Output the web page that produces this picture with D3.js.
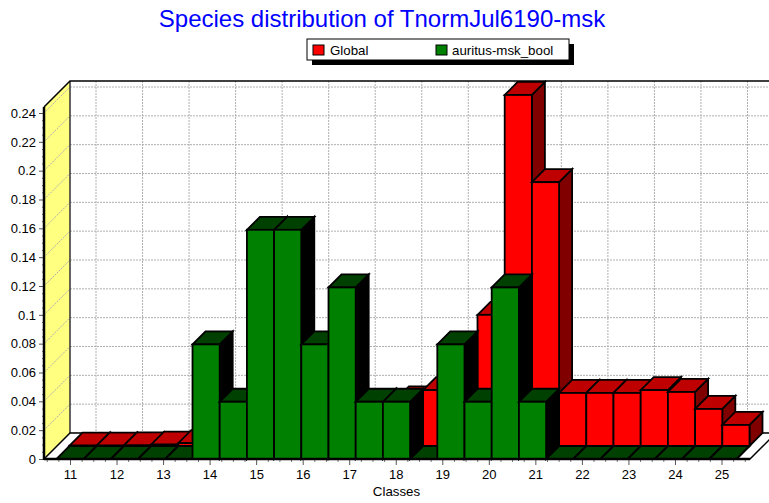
<!DOCTYPE html>
<html><head><meta charset="utf-8">
<script src="https://cdn.jsdelivr.net/npm/d3@7/dist/d3.min.js"></script>
<style>html,body{margin:0;padding:0;background:#fff;overflow:hidden}svg{display:block}text{font-family:"Liberation Sans",Arial,sans-serif}</style>
</head><body><svg id="c" width="769" height="503"></svg>
<script>
const titleText = "Species distribution of TnormJul6190-msk";
const xTitle = "Classes";
const seriesNames = ["Global", "auritus-msk_bool"];
const seriesColors = ["#ff0000", "#008000"];
const topColors = ["#bf0000", "#004000"];
const sideColors = ["#800000", "#000000"];
const bins = ["b01","b02","b03","b04","b05","b06","b07","b08","b09","b10","b11","b12","b13","b14","b15","b16","b17","b18","b19","b20","b21","b22","b23","b24","b25"];
const globalValues = [0.0003,0.0003,0.0004,0.001,0.002,0.005,0.01,0.015,0.02,0.025,0.028,0.028,0.0323,0.0388,0.04,0.091,0.2435,0.183,0.0368,0.0368,0.0368,0.0388,0.0375,0.0257,0.0146];
const maskValues = [0,0,0,0,0,0.0795,0.0397,0.159,0.159,0.0795,0.119,0.0397,0.0397,0,0.0795,0.0397,0.119,0.0397,0,0,0,0,0,0,0];
const xTicks = [11,12,13,14,15,16,17,18,19,20,21,22,23,24,25];
const yTicks = [0,0.02,0.04,0.06,0.08,0.1,0.12,0.14,0.16,0.18,0.2,0.22,0.24];

const svg = d3.select("#c");
const D = 26, S = 13; // total depth, per-series depth
const x = d3.scaleLinear().domain([11,25]).range([70,721.5]);
const y = d3.scaleLinear().domain([0,0.24]).range([459,113]);
const band = d3.scaleBand().domain(bins).range([56.5,736.5]);
const xL = 44, xR = 750, yB = 459, yT = 107;

// wall
svg.append("polygon").attr("points",[[xL,yT],[xL+D,yT-D],[xL+D,yB-D+1],[xL,yB]].join(" "))
  .attr("fill","#ffff80").attr("stroke","none");
// grid
const gridStyle = s => s.attr("stroke","#b0b0b0").attr("stroke-width",1).attr("stroke-dasharray","2,1").attr("fill","none");
const g = svg.append("g");
yTicks.forEach(v=>{
  gridStyle(g.append("line")).attr("x1",xL+D).attr("x2",769).attr("y1",y(v)-D).attr("y2",y(v)-D);
  gridStyle(g.append("line")).attr("x1",xL).attr("x2",xL+D).attr("y1",y(v)).attr("y2",y(v)-D);
});
xTicks.forEach(v=>{
  gridStyle(g.append("line")).attr("x1",x(v)+D).attr("x2",x(v)+D).attr("y1",yT-D).attr("y2",yB-D);
});
// wall outlines
svg.append("line").attr("x1",xL+D).attr("x2",xL+D).attr("y1",yT-D).attr("y2",yB-D).attr("stroke","#333").attr("stroke-width",1.5);
svg.append("path").attr("d",`M${xL},${yT}L${xL+D},${yT-D}H769`).attr("fill","none").attr("stroke","#000").attr("stroke-width",1.5);
// floor
svg.append("polygon").attr("points",[[xL,yB],[xR,yB],[xR+D,yB-D],[xL+D,yB-D]].join(" "))
  .attr("fill","#fff").attr("stroke","#000").attr("stroke-width",1.5);

function drawSeries(values, idx, off){
  const gs = svg.append("g");
  const b = band.bandwidth();
  values.forEach((v,i)=>{
    const x0 = band(bins[i]) + off, x1 = x0 + b;
    const y0 = y(v) - off, yb = y(0) - off;
    const e = gs.append("g").attr("stroke","#000").attr("stroke-width",1.8).attr("stroke-linejoin","miter");
    e.append("polygon").attr("points",[[x1,y0],[x1+S,y0-S],[x1+S,yb-S],[x1,yb]].join(" ")).attr("fill",sideColors[idx]);
    e.append("polygon").attr("points",[[x0,y0],[x0+S,y0-S],[x1+S,y0-S],[x1,y0]].join(" ")).attr("fill",topColors[idx]);
    if (v>0) e.append("rect").attr("x",x0).attr("y",y0).attr("width",b).attr("height",yb-y0).attr("fill",seriesColors[idx]);
  });
}
drawSeries(globalValues,0,S);
drawSeries(maskValues,1,0);

// axes
const fmt = d => String(+d.toFixed(2));
const ax = svg.append("g").attr("transform",`translate(0,${yB})`)
  .call(d3.axisBottom(x).tickValues(xTicks).tickSize(6).tickPadding(5).tickFormat(d3.format("d")));
const ay = svg.append("g").attr("transform",`translate(${xL},0)`)
  .call(d3.axisLeft(y).tickValues(yTicks).tickSize(5).tickPadding(3).tickFormat(fmt));
[ax,ay].forEach(a=>{
  a.select(".domain").remove();
  a.selectAll("line").attr("stroke","#555");
  a.selectAll("text").attr("fill","#000").style("font-size","13px").style("font-family",'"Liberation Sans",Arial,sans-serif');
});
const minorX = d3.range(-2,59).map(k=>11+k/4).filter(v=>v%1!==0 && x(v)>=xL && x(v)<=xR);
svg.append("g").attr("transform",`translate(0,${yB})`)
  .call(d3.axisBottom(x).tickValues(minorX).tickSize(3).tickFormat(""))
  .call(s=>s.select(".domain").remove()).selectAll("line").attr("stroke","#777");
const minorY = d3.range(0,49).map(k=>k*0.005).filter(v=>Math.round(v*1000)%20!==0);
svg.append("g").attr("transform",`translate(${xL},0)`)
  .call(d3.axisLeft(y).tickValues(minorY).tickSize(2).tickFormat(""))
  .call(s=>s.select(".domain").remove()).selectAll("line").attr("stroke","#777");
svg.append("line").attr("x1",xL).attr("x2",xL).attr("y1",yT).attr("y2",yB+1).attr("stroke","#000").attr("stroke-width",2.5);
svg.append("line").attr("x1",xL).attr("x2",xR).attr("y1",yB).attr("y2",yB).attr("stroke","#000").attr("stroke-width",2.5);

// title
svg.append("text").attr("x",382).attr("y",27).attr("text-anchor","middle").attr("fill","#0000ff").style("font-size","24px").text(titleText);
svg.append("text").attr("x",396.5).attr("y",496).attr("text-anchor","middle").attr("fill","#000").style("font-size","13.3px").text(xTitle);

// legend
const lx=307, ly=39, lw=262, lh=21;
svg.append("rect").attr("x",lx+5).attr("y",ly+5).attr("width",lw).attr("height",lh).attr("fill","#000");
svg.append("rect").attr("x",lx).attr("y",ly).attr("width",lw).attr("height",lh).attr("fill","#fff").attr("stroke","#000");
const legendX = [313,436], legendTextX = [330,452];
seriesNames.forEach((n,i)=>{
  svg.append("rect").attr("x",legendX[i]).attr("y",ly+6).attr("width",11).attr("height",10).attr("fill",seriesColors[i]).attr("stroke","#000");
  svg.append("text").attr("x",legendTextX[i]).attr("y",ly+15.5).attr("fill","#000").style("font-size","13.3px").text(n);
});
</script></body></html>
